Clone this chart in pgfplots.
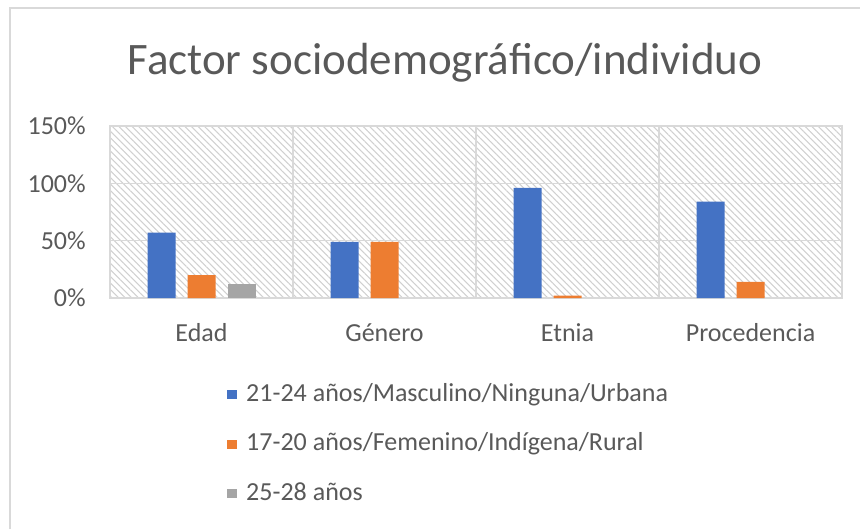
\documentclass[border=0pt]{standalone}
\usepackage{pgfplots}
\pgfplotsset{compat=1.18}
\usetikzlibrary{patterns.meta}
\usepackage{fontspec}
\setmainfont{Carlito}
\definecolor{txt}{HTML}{595959}
\definecolor{grd}{HTML}{D9D9D9}
\definecolor{hatch}{HTML}{D0D0D0}
\definecolor{cblue}{HTML}{4472C4}
\definecolor{corange}{HTML}{ED7D31}
\definecolor{cgray}{HTML}{A5A5A5}
\begin{document}
\begin{tikzpicture}
\path[use as bounding box] (0,0) rectangle (645pt,396.75pt);
\draw[grd, line width=1.5pt] (7.5pt,0) -- (7.5pt,390.75pt) -- (645pt,390.75pt);
\node[anchor=base, inner sep=0pt, font=\fontsize{33.75}{40}\selectfont, text=txt] at (333.75pt,340.5pt) {Factor sociodemográfico/individuo};
\begin{axis}[
  at={(82.5pt,173.25pt)}, anchor=south west,
  scale only axis, width=549pt, height=129pt,
  xmin=-0.5, xmax=3.5, ymin=0, ymax=150,
  xtick={0,1,2,3}, xticklabels={Edad,Género,Etnia,Procedencia},
  ytick={0,50,100,150}, yticklabels={0\%,50\%,100\%,150\%},
  minor xtick={0.5,1.5,2.5},
  ymajorgrids, xminorgrids,
  grid style={grd, line width=1pt},
  minor grid style={grd, line width=1pt},
  axis line style={grd, line width=1pt},
  major tick length=0pt, minor tick length=0pt,
  tick style={draw=none},
  ticklabel style={font=\fontsize{19.5}{23}\selectfont, text=txt},
  yticklabel style={anchor=east, inner sep=0pt, xshift=-18pt},
  xticklabel style={anchor=base, inner sep=0pt, yshift=-32.25pt},
  axis background/.style={pattern={Lines[angle=-45,distance=3.5pt,line width=0.8pt]}, pattern color=hatch},
  ybar=9pt, bar width=21pt,
  every axis plot post/.append style={legend image code/.code={\fill[##1] (0pt,-3.4pt) rectangle (7.5pt,3.4pt);}},
  legend cell align=left,
  legend style={at={(0.1598,-0.4913)}, anchor=north west, draw=none, fill=none, inner sep=0pt, row sep=19pt,
    font=\fontsize{19.5}{23}\selectfont,
    nodes={inner sep=0pt, text height=14pt, text depth=4pt, text=txt},
    /tikz/every odd column/.style={column sep=6.75pt}},
]
\addplot[fill=cblue, draw=none] coordinates {(0,57) (1,49) (2,96) (3,84)};
\addplot[fill=corange, draw=none] coordinates {(0,20) (1,49) (2,2) (3,14)};
\addplot[fill=cgray, draw=none] coordinates {(0,12)};
\legend{21-24 años/Masculino/Ninguna/Urbana, 17-20 años/Femenino/Indígena/Rural, 25-28 años}
\end{axis}
\end{tikzpicture}
\end{document}
